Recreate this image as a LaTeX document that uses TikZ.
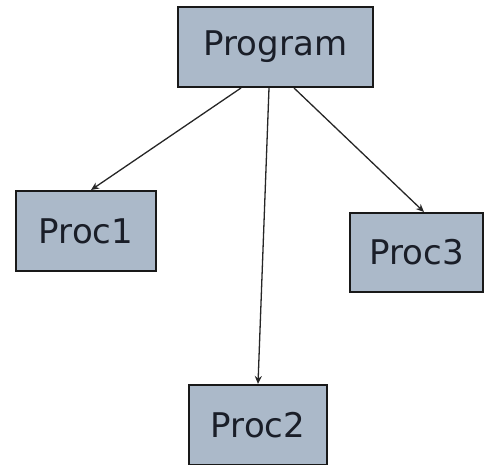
\documentclass[tikz,border=0pt]{standalone}
\usepackage{fontspec}
\setmainfont{DejaVu Sans}
\usetikzlibrary{calc,arrows.meta}
\definecolor{boxfill}{HTML}{ABB9C9}
\definecolor{txt}{HTML}{1A1E28}
\begin{document}
\begin{tikzpicture}[x=1pt,y=1pt,
  boxnode/.style={draw=black!90,line width=2pt,fill=boxfill,text=txt,
    font=\fontsize{34}{38}\selectfont,inner sep=0pt,anchor=center},
  conn/.style={draw=black!85,line width=1.3pt,-{Stealth[length=8pt,width=7pt]}}]
\useasboundingbox (0,0) rectangle (485,465);
\node[boxnode,minimum width=195pt,minimum height=80pt] (prog) at (275.5,418) {Program};
\node[boxnode,minimum width=140pt,minimum height=80pt] (p1) at (86,234) {Proc1};
\node[boxnode,minimum width=133pt,minimum height=79pt] (p3) at (416.5,212.5) {Proc3};
\node[boxnode,minimum width=138pt,minimum height=80pt] (p2) at (258,40) {Proc2};
\draw[conn] ($(prog.south west)+(64,0)$) -- ($(p1.north west)+(76,0)$);
\draw[conn] ($(prog.south west)+(92,0)$) -- (p2.north);
\draw[conn] ($(prog.south west)+(117,0)$) -- ($(p3.north west)+(75,0)$);
\end{tikzpicture}
\end{document}
